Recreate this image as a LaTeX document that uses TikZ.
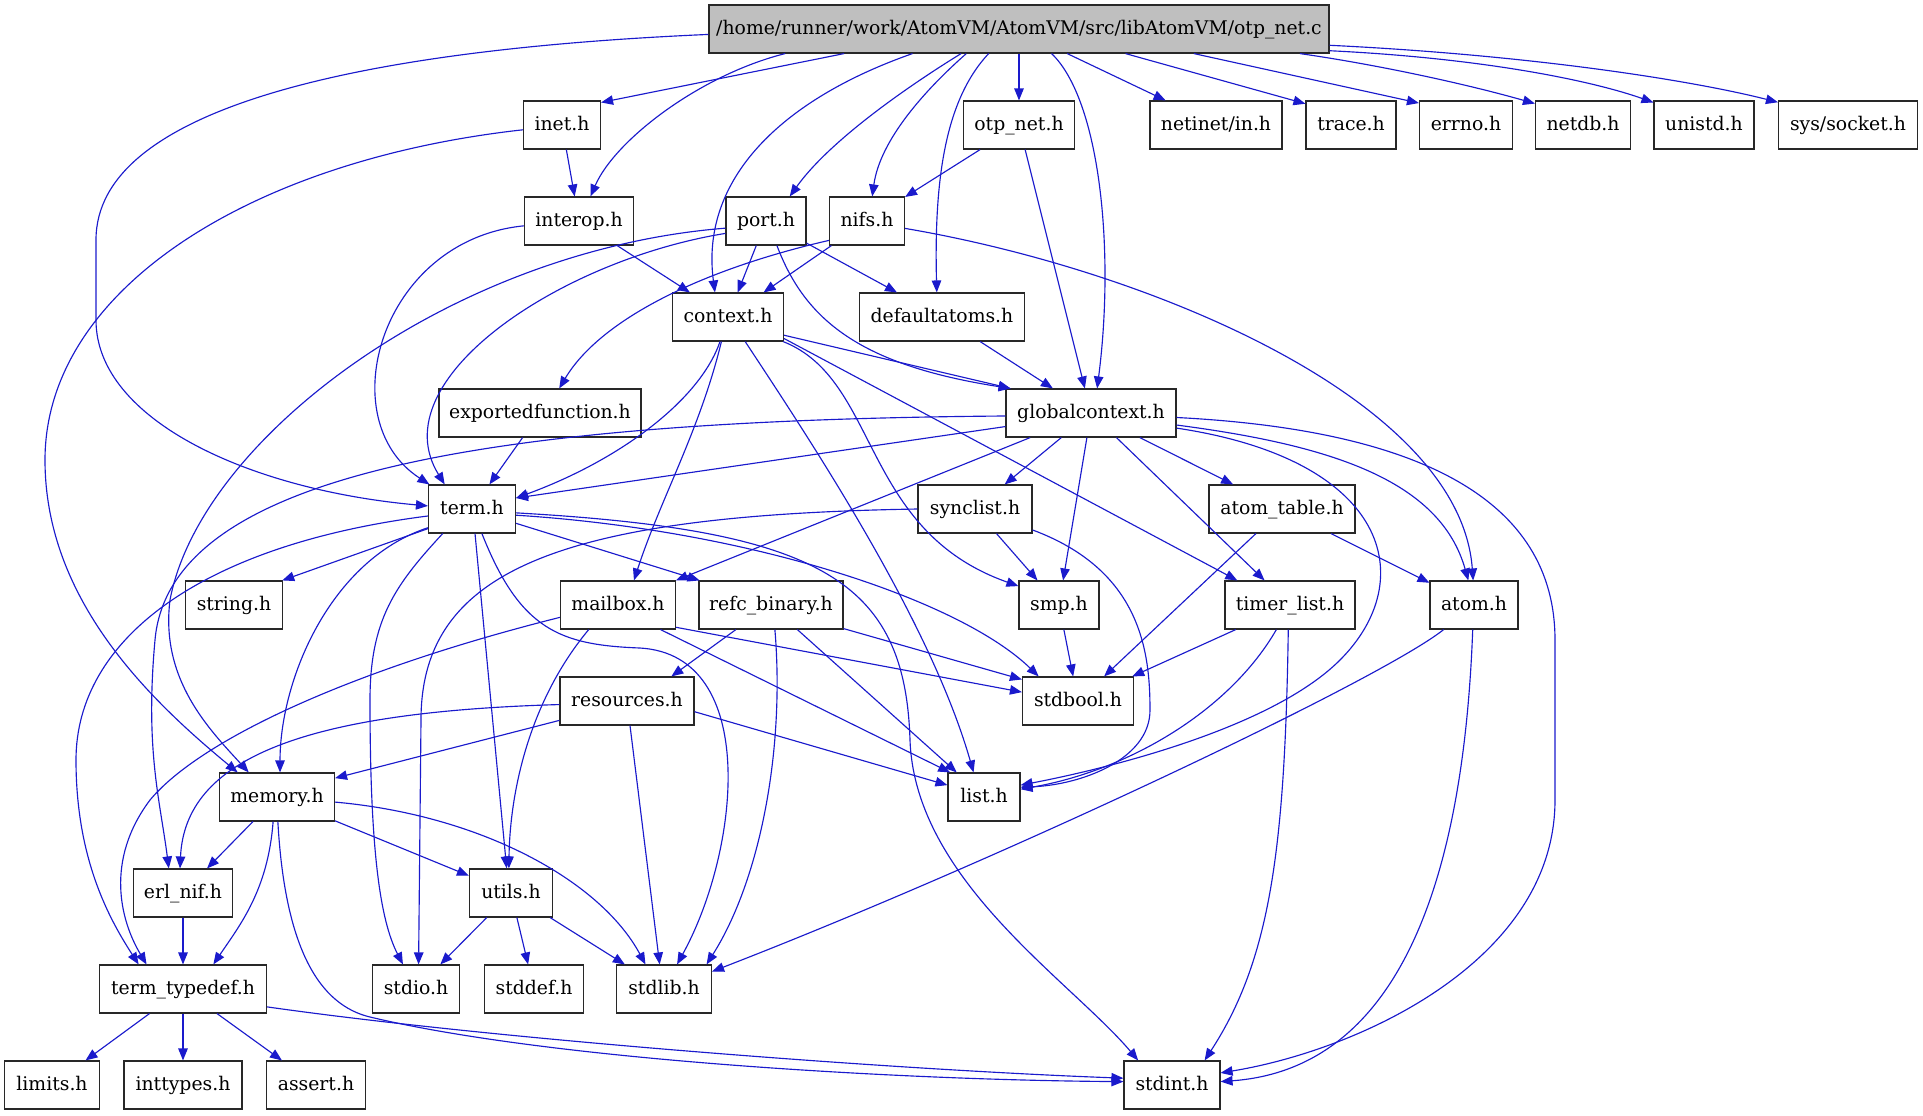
\documentclass[tikz,border=0pt]{standalone}
\usepackage{fontspec}
\setmainfont{DejaVu Serif}
\usetikzlibrary{arrows.meta,calc}
\definecolor{edgeblue}{RGB}{26,26,204}
\definecolor{filegray}{RGB}{191,191,191}
\definecolor{boxborder}{RGB}{40,40,40}
\tikzset{
hdr/.style={draw=boxborder, fill=white, line width=0.65pt, minimum height=9.6mm, inner sep=0pt,
  text height=2.8mm, text depth=0.7mm, font=\fontsize{10.7}{12}\selectfont},
srcbox/.style={hdr, fill=filegray},
hw/.style={minimum width=#1*0.2mm},
incl/.style={draw=edgeblue, line width=0.65pt, -{Triangle[length=2.4mm,width=1.9mm]}}
}

\begin{document}
\begin{tikzpicture}[x=0.2mm,y=-0.2mm]

\useasboundingbox (0,0) rectangle (1923,1115);

\node[srcbox, hw=620] (src) at (1019,29) {/home/runner/work/AtomVM/AtomVM/src/libAtomVM/otp\_net.c};

\node[hdr, hw=77] (inet) at (562,125) {inet.h};
\node[hdr, hw=111] (otpneth) at (1019,125) {otp\_net.h};
\node[hdr, hw=132] (netinet) at (1216,125) {netinet/in.h};
\node[hdr, hw=90] (trace) at (1351,125) {trace.h};
\node[hdr, hw=93] (errnoh) at (1466,125) {errno.h};
\node[hdr, hw=95] (netdb) at (1583,125) {netdb.h};
\node[hdr, hw=100] (unistd) at (1704,125) {unistd.h};
\node[hdr, hw=139] (syssocket) at (1848,125) {sys/socket.h};

\node[hdr, hw=109] (interop) at (579,221) {interop.h};
\node[hdr, hw=80] (port) at (766,221) {port.h};
\node[hdr, hw=75] (nifs) at (867,221) {nifs.h};

\node[hdr, hw=111] (context) at (728,317) {context.h};
\node[hdr, hw=165] (defatoms) at (942,317) {defaultatoms.h};

\node[hdr, hw=202] (expfun) at (540,413) {exportedfunction.h};
\node[hdr, hw=170] (globalctx) at (1091,413) {globalcontext.h};

\node[hdr, hw=87] (term) at (472,509) {term.h};
\node[hdr, hw=114] (synclist) at (975,509) {synclist.h};
\node[hdr, hw=146] (atomtable) at (1282,509) {atom\_table.h};

\node[hdr, hw=97] (stringh) at (234,605) {string.h};
\node[hdr, hw=115] (mailbox) at (618,605) {mailbox.h};
\node[hdr, hw=144] (refcbin) at (771,605) {refc\_binary.h};
\node[hdr, hw=80] (smp) at (1059,605) {smp.h};
\node[hdr, hw=130] (timerlist) at (1290,605) {timer\_list.h};
\node[hdr, hw=88] (atom) at (1474,605) {atom.h};

\node[hdr, hw=134] (resources) at (627,701) {resources.h};
\node[hdr, hw=111] (stdbool) at (1078,701) {stdbool.h};

\node[hdr, hw=115] (memory) at (277,797) {memory.h};
\node[hdr, hw=72] (list) at (984,797) {list.h};

\node[hdr, hw=99] (erlnif) at (183,893) {erl\_nif.h};
\node[hdr, hw=83] (utils) at (511,893) {utils.h};

\node[hdr, hw=167] (termtd) at (183,989) {term\_typedef.h};
\node[hdr, hw=87] (stdio) at (416,989) {stdio.h};
\node[hdr, hw=99] (stddef) at (534,989) {stddef.h};
\node[hdr, hw=95] (stdlib) at (664,989) {stdlib.h};

\node[hdr, hw=95] (limits) at (52,1085) {limits.h};
\node[hdr, hw=118] (inttypes) at (183,1085) {inttypes.h};
\node[hdr, hw=99] (assert) at (316,1085) {assert.h};
\node[hdr, hw=96] (stdint) at (1172,1085) {stdint.h};

% otp_net.c
\draw[incl] (src.-172) -- (inet.30);
\draw[incl] (src.-174) .. controls (700,75) and (615,140) .. (interop.65);
\draw[incl] (src.181) .. controls (350,50) and (96,110) .. (96,240) -- (96,320) .. controls (96,420) and (250,490) .. (term.176);
\draw[incl] (src.-157) .. controls (910,85) and (830,140) .. (port.46);
\draw[incl] (src.-155) .. controls (925,90) and (880,140) .. (nifs.78);
\draw[incl] (src.-167) .. controls (780,100) and (700,180) .. (context.118);
\draw[incl] (src.-141) .. controls (945,100) and (934,180) .. (defatoms.102);
\draw[incl] (src) -- (otpneth);
\draw[incl] (src.-37) .. controls (1100,100) and (1115,250) .. (globalctx.76);
\draw[incl] (src.-27) -- (netinet.154);
\draw[incl] (src.-13) -- (trace.155);
\draw[incl] (src.-8) -- (errnoh.155);
\draw[incl] (src.-5.5) .. controls (1380,65) and (1470,85) .. (netdb.156);
\draw[incl] (src.-4) .. controls (1480,58) and (1590,80) .. (unistd.156);
\draw[incl] (src.-3) .. controls (1530,55) and (1690,80) .. (syssocket.162);

\draw[incl] (inet) -- (interop);
\draw[incl] (inet.-173) .. controls (250,160) and (45,290) .. (45,460) .. controls (45,600) and (150,700) .. (memory.148);
\draw[incl] (otpneth) -- (nifs);
\draw[incl] (otpneth) -- (globalctx);
\draw[incl] (interop) -- (context);
\draw[incl] (interop.-175) .. controls (380,240) and (330,420) .. (term.150);
\draw[incl] (port) -- (context);
\draw[incl] (port) -- (defatoms);
\draw[incl] (port.-66) .. controls (805,320) and (860,365) .. (globalctx.163);
\draw[incl] (port.-163) .. controls (560,260) and (380,380) .. (term.138);
\draw[incl] (port.-170) .. controls (450,250) and (200,440) .. (170,600) .. controls (160,680) and (210,730) .. (memory.139);
\draw[incl] (nifs) -- (context);
\draw[incl] (nifs.-153) .. controls (700,270) and (600,320) .. (expfun.52);
\draw[incl] (nifs.-11) .. controls (1150,270) and (1460,400) .. (atom.92);

% context.h, globalcontext.h
\draw[incl] (context.-18) -- (globalctx.163);
\draw[incl] (context.-108) .. controls (700,400) and (620,460) .. (term.14);
\draw[incl] (context.-105) .. controls (700,430) and (660,500) .. (mailbox.57);
\draw[incl] (context.-55) .. controls (810,440) and (930,620) .. (list.113);
\draw[incl] (context.-24) .. controls (880,380) and (860,530) .. (smp.155);
\draw[incl] (context.-21) -- (timerlist.155);
\draw[incl] (defatoms) -- (globalctx);
\draw[incl] (expfun) -- (term);

\draw[incl] (globalctx.-171) -- (term.14);
\draw[incl] (globalctx) -- (synclist);
\draw[incl] (globalctx) -- (smp);
\draw[incl] (globalctx) -- (timerlist);
\draw[incl] (globalctx) -- (atomtable);
\draw[incl] (globalctx.-8) .. controls (1330,445) and (1440,480) .. (atom.103);
\draw[incl] (globalctx.-10) .. controls (1390,460) and (1420,580) .. (1340,660) .. controls (1270,730) and (1100,770) .. (list.18);
\draw[incl] (globalctx.-3) .. controls (1420,430) and (1555,500) .. (1555,640) -- (1555,800) .. controls (1555,960) and (1360,1050) .. (stdint.14);
\draw[incl] (globalctx.-158) -- (mailbox.23);
\draw[incl] (globalctx.-178) .. controls (500,420) and (170,470) .. (155,640) .. controls (145,750) and (160,800) .. (erlnif.120);

% term.h
\draw[incl] (term.-156) -- (stringh.27);
\draw[incl] (term.-157) .. controls (330,560) and (280,680) .. (memory.83);
\draw[incl] (term.-140) .. controls (395,585) and (370,620) .. (370,700) .. controls (370,850) and (380,920) .. (stdio.118);
\draw[incl] (term.-83) -- (utils.100);
\draw[incl] (term.-68) .. controls (520,630) and (560,645) .. (640,648) .. controls (760,655) and (740,850) .. (stdlib.62);
\draw[incl] (term.-5) .. controls (820,530) and (905,580) .. (910,740) .. controls (915,880) and (1070,980) .. (stdint.144);
\draw[incl] (term.-18) -- (refcbin.161);
\draw[incl] (term.-8) .. controls (750,530) and (960,600) .. (stdbool.148);
\draw[incl] (term.-171) .. controls (200,545) and (76,640) .. (76,760) .. controls (76,860) and (110,920) .. (termtd.151);

% lower levels
\draw[incl] (synclist) -- (smp);
\draw[incl] (synclist.-20) .. controls (1140,570) and (1150,650) .. (1150,710) .. controls (1150,760) and (1080,785) .. (list.15);
\draw[incl] (synclist.180) .. controls (560,515) and (421,570) .. (421,720) -- (stdio.84);
\draw[incl] (atomtable) -- (atom);
\draw[incl] (atomtable) -- (stdbool);
\draw[incl] (mailbox.-140) .. controls (530,700) and (510,790) .. (utils.95);
\draw[incl] (mailbox.-30) -- (list.144);
\draw[incl] (mailbox.-21) -- (stdbool.171);
\draw[incl] (mailbox.-168) .. controls (350,670) and (200,740) .. (150,800) .. controls (105,860) and (120,920) .. (termtd.146);
\draw[incl] (refcbin.-145) -- (resources.29);
\draw[incl] (refcbin.-18) -- (stdbool.159);
\draw[incl] (refcbin.-43) -- (list.138);
\draw[incl] (refcbin.-81) .. controls (785,750) and (760,880) .. (stdlib.30);
\draw[incl] (smp) -- (stdbool);
\draw[incl] (timerlist) -- (stdbool);
\draw[incl] (timerlist.-119) .. controls (1230,710) and (1130,770) .. (list.12);
\draw[incl] (timerlist.-94) .. controls (1285,850) and (1270,960) .. (stdint.37);
\draw[incl] (atom.-93) .. controls (1462,920) and (1380,1070) .. (stdint.4);
\draw[incl] (atom.-141) .. controls (1380,680) and (1000,860) .. (stdlib.20);
\draw[incl] (resources.-164) -- (memory.18);
\draw[incl] (resources.-177) .. controls (300,712) and (185,760) .. (erlnif.97);
\draw[incl] (resources.-9) -- (list.162);
\draw[incl] (resources.-83) -- (stdlib.100);
\draw[incl] (memory) -- (erlnif);
\draw[incl] (memory) -- (utils);
\draw[incl] (memory.-99) .. controls (268,890) and (240,925) .. (termtd.39);
\draw[incl] (memory.-5) .. controls (480,815) and (600,880) .. (stdlib.127);
\draw[incl] (memory.-88) .. controls (285,950) and (320,1005) .. (370,1017) .. controls (550,1060) and (900,1080) .. (stdint.176);
\draw[incl] (erlnif) -- (termtd);
\draw[incl] (utils) -- (stdio);
\draw[incl] (utils) -- (stddef);
\draw[incl] (utils) -- (stdlib);
\draw[incl] (termtd) -- (limits);
\draw[incl] (termtd) -- (inttypes);
\draw[incl] (termtd) -- (assert);
\draw[incl] (termtd.-12) .. controls (500,1040) and (900,1070) .. (stdint.172);

\end{tikzpicture}
\end{document}
